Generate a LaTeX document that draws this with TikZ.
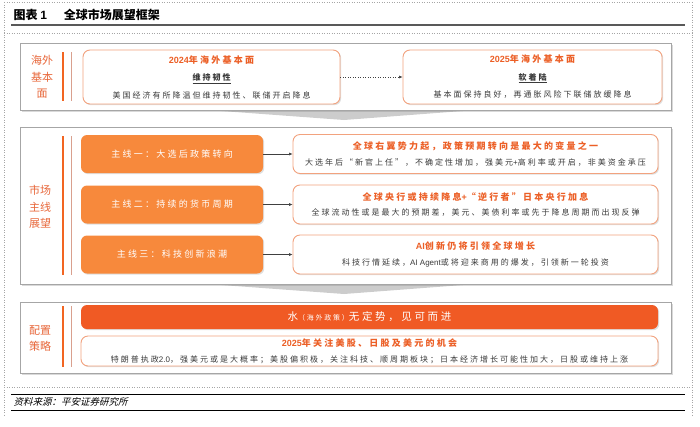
\documentclass[tikz,border=0pt]{standalone}
\usepackage{fontspec}
\usepackage{xcolor}
\setmainfont{Noto Sans CJK SC}
\newfontfamily\cjk[LetterSpace=25]{Noto Sans CJK SC}
\newfontfamily\cjkit[FakeSlant=0.25]{Noto Sans CJK SC}
\newfontfamily\lat{Liberation Sans}
\usetikzlibrary{arrows.meta, positioning, shadows}
\definecolor{mainorange}{HTML}{F7893C}
\definecolor{bannerred}{HTML}{F05A24}
\definecolor{titleorange}{HTML}{EC5F26}
\definecolor{labelorange}{HTML}{E8673A}
\definecolor{boxline}{HTML}{F2A27E}
\definecolor{lineorange}{HTML}{F26522}
\definecolor{thinline}{HTML}{D9A08E}
\definecolor{panelgray}{HTML}{A6A6A6}
\definecolor{bodygray}{HTML}{3A3A3A}
\newcommand{\ttlf}{\fontsize{9}{15}\selectfont\bfseries\color{titleorange}}
\newcommand{\subf}{\fontsize{8}{15}\selectfont\bfseries\color{bodygray}}
\newcommand{\bodyf}{\fontsize{8}{15}\selectfont\color{bodygray}}

\begin{document}
\begin{tikzpicture}[x=1pt,y=-1pt,
  panel/.style={draw=panelgray,line width=0.9pt,fill=white,
    drop shadow={shadow xshift=1.6pt,shadow yshift=-1.6pt,opacity=0.3}},
  wbox/.style={draw=boxline,line width=0.9pt,fill=white,rounded corners=7pt,
    inner sep=0pt,align=center,font=\cjk\fontsize{8}{15.5}\selectfont,
    drop shadow={shadow xshift=1.2pt,shadow yshift=-1.2pt,opacity=0.25}},
  obox/.style={fill=mainorange,rounded corners=6pt,text=white,inner sep=0pt,
    minimum width=182pt,minimum height=38pt,font=\cjk\fontsize{9}{11}\selectfont,
    drop shadow={shadow xshift=1.2pt,shadow yshift=-1.2pt,opacity=0.25}},
  lbl/.style={text=labelorange,align=center,font=\fontsize{11}{16.5}\selectfont},
  dotline/.style={draw=black!35,dotted,line width=0.5pt},
  arr/.style={draw=black!75,line width=0.5pt,-{Latex[length=3.5pt,width=3pt]}},
  funnel/.style={fill=black!20}]
  \useasboundingbox (0,0) rectangle (700,426);
  % page frame and title
  \draw[dotline] (4,2) -- (692,2);
  \draw[dotline] (4,2) -- (4,416);
  \draw[dotline] (692,2) -- (692,416);
  \draw[dotline] (4,33) -- (692,33);
  \draw[dotline] (4,387) -- (692,387);
  \node[anchor=west,font=\fontsize{12}{14}\selectfont\bfseries] (title) at (10,15) {图表 {\lat 1}\hspace{17pt}全球市场展望框架};
  \draw[line width=1.8pt,draw=black!65] (11,25) -- (685,25);
  % funnels
  \fill[funnel] (208,110) -- (476,110) -- (344,120) -- cycle;
  \fill[funnel] (208,284) -- (476,284) -- (344,294) -- cycle;
  % panels
  \draw[panel] (20,43) rectangle (671,110);
  \draw[panel] (20,127) rectangle (671,284);
  \draw[panel] (20,302) rectangle (671,373);
  \foreach \ya/\yb in {52/101,136/275,306/367}{
    \draw[line width=2pt,draw=lineorange] (63,\ya) -- (63,\yb);
    \draw[line width=0.8pt,draw=thinline] (71,\ya) -- (71,\yb);}
  \node[lbl] (lab1) at (42,77) {海外\\基本\\面};
  \node[lbl] (lab2) at (40,207) {市场\\主线\\展望};
  \node[lbl] (lab3) at (40,338.5) {配置\\策略};
  % overseas fundamentals
  \node[wbox,font=\cjk\fontsize{8}{17.5}\selectfont,minimum width=257pt,minimum height=54pt] (base24) at (211.5,77)
    {{\ttlf {\lat 2024}年海外基本面}\\{\subf\underline{维持韧性}}\\{\bodyf 美国经济有所降温但维持韧性、联储开启降息}};
  \node[wbox,font=\cjk\fontsize{8}{17.5}\selectfont,minimum width=259pt,minimum height=54pt] (base25) at (532.5,77)
    {{\ttlf {\lat 2025}年海外基本面}\\{\subf\underline{软着陆}}\\{\bodyf 基本面保持良好，再通胀风险下联储放缓降息}};
  \draw[arr,dotted] (base24) -- (base25);
  % main lines
  \node[obox] (m1) at (172,154) {主线一：大选后政策转向};
  \node[obox] (m2) at (172,204.5) {主线二：持续的货币周期};
  \node[obox] (m3) at (172,254.5) {主线三：科技创新浪潮};
  \node[wbox,minimum width=365pt,minimum height=39pt] (v1) at (475.5,154)
    {{\ttlf 全球右翼势力起，政策预期转向是最大的变量之一}\\{\bodyf 大选年后“新官上任”，不确定性增加，强美元{\lat +}高利率或开启，非美资金承压}};
  \node[wbox,minimum width=365pt,minimum height=39pt] (v2) at (475.5,204.5)
    {{\ttlf 全球央行或持续降息{\lat +}“逆行者”日本央行加息}\\{\bodyf 全球流动性或是最大的预期差，美元、美债利率或先于降息周期而出现反弹}};
  \node[wbox,minimum width=365pt,minimum height=39pt] (v3) at (475.5,254.5)
    {{\ttlf {\lat AI}创新仍将引领全球增长}\\{\bodyf 科技行情延续，{\lat AI Agent}或将迎来商用的爆发，引领新一轮投资}};
  \foreach \i in {1,2,3}{\draw[arr] (m\i) -- (v\i);}
  % allocation
  \node[fill=bannerred,rounded corners=6pt,minimum width=577pt,minimum height=24pt,inner sep=0pt,
    text=white,font=\cjk\fontsize{10.5}{12}\selectfont,
    drop shadow={shadow xshift=1.2pt,shadow yshift=-1.2pt,opacity=0.25}] (water) at (369.5,317)
    {水{\fontsize{7}{9}\selectfont（海外政策）}无定势，见可而进};
  \node[wbox,minimum width=577pt,minimum height=30pt] (alloc) at (369.5,351)
    {{\ttlf {\lat 2025}年关注美股、日股及美元的机会}\\{\bodyf 特朗普执政{\lat 2.0}，强美元或是大概率；美股偏积极，关注科技、顺周期板块；日本经济增长可能性加大，日股或维持上涨}};
  % source
  \draw[line width=0.9pt] (11,394) -- (685,394);
  \node[anchor=west,font=\cjkit\fontsize{9.5}{11}\selectfont] (src) at (10,402) {资料来源：平安证券研究所};
  \draw[line width=0.9pt] (11,410) -- (685,410);
\end{tikzpicture}
\end{document}
